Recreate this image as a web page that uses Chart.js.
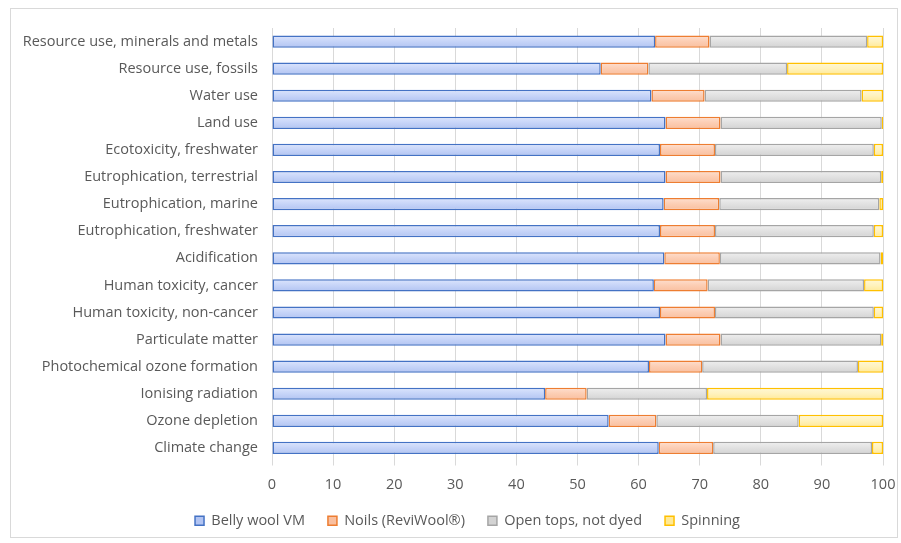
<!DOCTYPE html>
<html>
<head>
<meta charset="utf-8">
<script src="https://cdn.jsdelivr.net/npm/chart.js@4"></script>
<style>
html,body{margin:0;padding:0;background:#fff;}
#wrap{position:relative;width:901px;height:543px;}
#frame{position:absolute;left:10px;top:8px;width:888px;height:530px;border:1px solid #d9d9d9;box-sizing:border-box;pointer-events:none;}
canvas{position:absolute;left:0;top:0;}
</style>
</head>
<body>
<div id="wrap">
<canvas id="c" width="901" height="543"></canvas>
<div id="frame"></div>
</div>
<script>
const categories = [
  "Resource use, minerals and metals",
  "Resource use, fossils",
  "Water use",
  "Land use",
  "Ecotoxicity, freshwater",
  "Eutrophication, terrestrial",
  "Eutrophication, marine",
  "Eutrophication, freshwater",
  "Acidification",
  "Human toxicity, cancer",
  "Human toxicity, non-cancer",
  "Particulate matter",
  "Photochemical ozone formation",
  "Ionising radiation",
  "Ozone depletion",
  "Climate change"
];
const bellyWool = [62.7, 53.8, 62.1, 64.4, 63.5, 64.4, 64.1, 63.5, 64.2, 62.5, 63.5, 64.4, 61.7, 44.7, 55.1, 63.3];
const noils     = [8.9, 7.8, 8.7, 9.0, 9.0, 9.0, 9.1, 9.0, 9.1, 8.8, 9.0, 9.0, 8.7, 6.8, 7.8, 8.9];
const openTops  = [25.8, 22.7, 25.7, 26.4, 26.0, 26.3, 26.2, 26.0, 26.3, 25.6, 26.0, 26.3, 25.5, 19.7, 23.3, 26.0];
const spinning  = [2.6, 15.7, 3.5, 0.2, 1.5, 0.3, 0.6, 1.5, 0.4, 3.1, 1.5, 0.3, 4.1, 28.8, 13.8, 1.8];
const xTicks = [0, 10, 20, 30, 40, 50, 60, 70, 80, 90, 100];

const font = {family: "'Open Sans', sans-serif", size: 14.5};
const textColor = "#595959";

function gradFill(stops, solid) {
  return (ctx) => {
    if (ctx.dataIndex === undefined || !ctx.chart.scales || !ctx.chart.scales.y) return solid;
    const y = ctx.chart.scales.y.getPixelForValue(ctx.dataIndex);
    if (!isFinite(y)) return solid;
    const g = ctx.chart.ctx.createLinearGradient(0, y - 6, 0, y + 6);
    g.addColorStop(0, stops[0]);
    g.addColorStop(0.5, stops[1]);
    g.addColorStop(1, stops[2]);
    return g;
  };
}

function ds(label, data, stops, solid, border) {
  return {
    label, data,
    backgroundColor: gradFill(stops, solid),
    borderColor: border,
    borderWidth: 1.5,
    borderSkipped: false,
    barPercentage: 0.45,
    categoryPercentage: 1.0
  };
}

const legendShift = {
  id: 'legendShift',
  afterLayout(chart) {
    if (chart.legend) { chart.legend.left += 26; chart.legend.right += 26; }
  }
};

new Chart(document.getElementById('c'), {
  type: 'bar',
  data: {
    labels: categories,
    datasets: [
      ds("Belly wool VM", bellyWool, ["#dce5fd", "#c6d4f8", "#b2c4f2"], "#c6d4f8", "#4472c4"),
      ds("Noils (ReviWool®)", noils, ["#fedfcf", "#fccdb3", "#f9bf9f"], "#fccdb3", "#ed7d31"),
      ds("Open tops, not dyed", openTops, ["#efefef", "#e1e1e1", "#d3d3d3"], "#e1e1e1", "#a5a5a5"),
      ds("Spinning", spinning, ["#fff8d6", "#fff2bd", "#ffe996"], "#fff2bd", "#ffc000")
    ]
  },
  plugins: [legendShift],
  options: {
    indexAxis: 'y',
    responsive: false,
    animation: false,
    devicePixelRatio: 1,
    layout: {padding: {top: 28, right: 18, bottom: 5, left: 0}},
    scales: {
      x: {
        stacked: true,
        min: 0, max: 100,
        afterBuildTicks: (s) => { s.ticks = xTicks.map(v => ({value: v})); },
        afterFit: (s) => { s.height = 29; s.paddingLeft = 0; s.paddingRight = 0; },
        grid: {color: "#d9d9d9", lineWidth: 1, tickLength: 4, drawTicks: true},
        border: {display: false},
        ticks: {color: textColor, font, padding: 11, maxRotation: 0}
      },
      y: {
        stacked: true,
        afterFit: (s) => { s.width = 272; },
        grid: {display: false, drawTicks: false},
        border: {display: true, color: "#d9d9d9"},
        ticks: {color: textColor, font, padding: 14, autoSkip: false}
      }
    },
    plugins: {
      legend: {
        position: 'bottom',
        labels: {
          color: textColor, font,
          boxWidth: 9, boxHeight: 9,
          padding: 23,
          useBorderRadius: false
        }
      },
      tooltip: {enabled: false}
    }
  }
});
</script>
</body>
</html>
